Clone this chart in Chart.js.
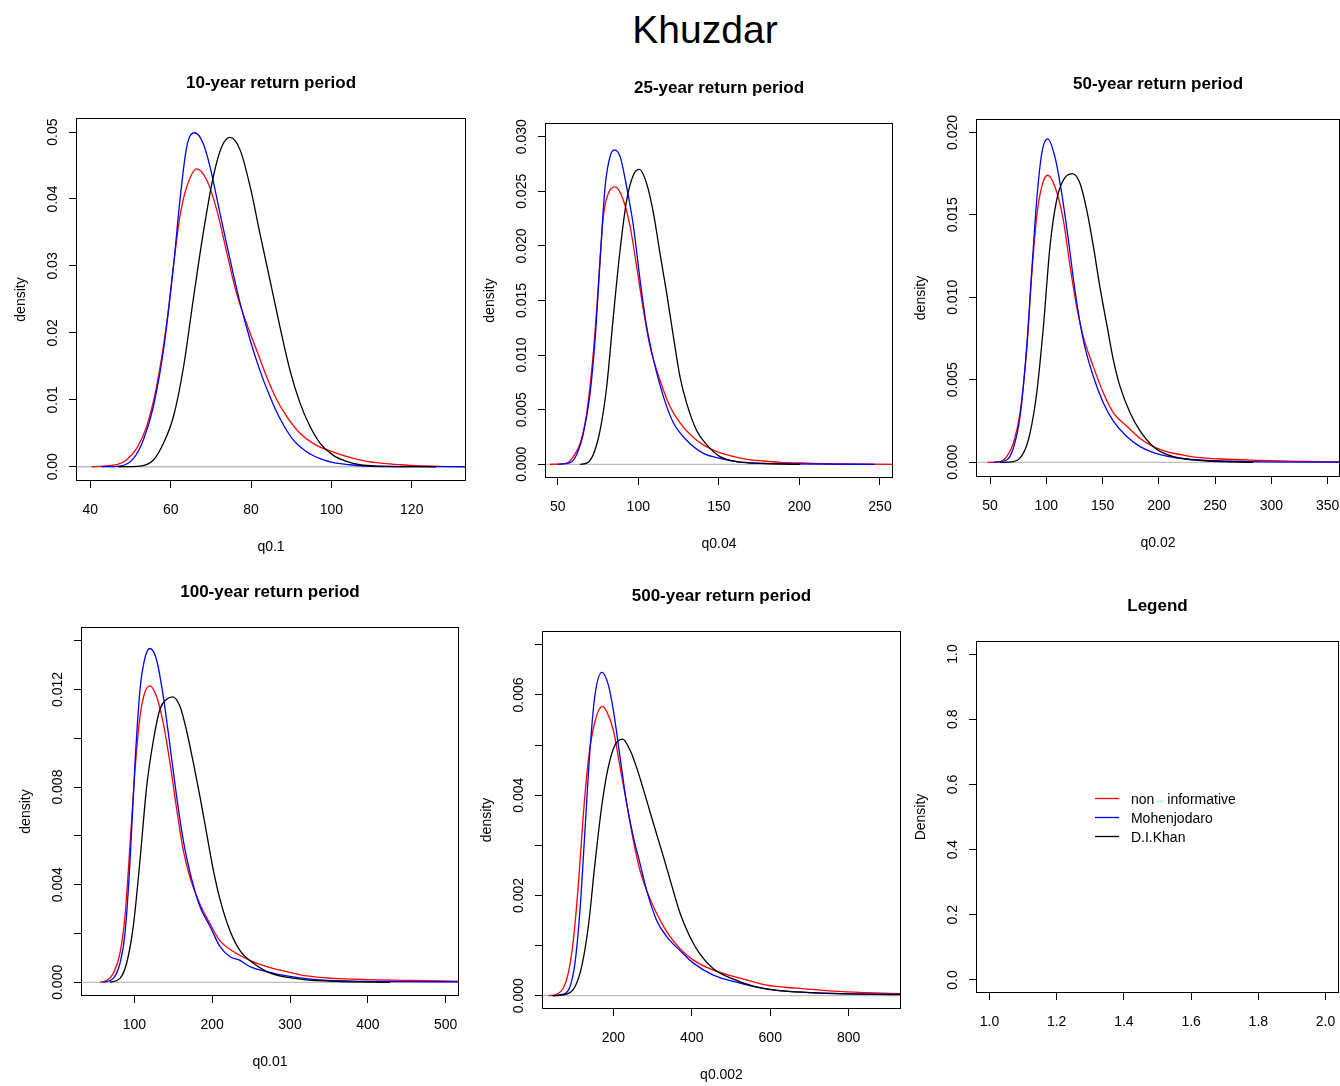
<!DOCTYPE html>
<html>
<head>
<meta charset="utf-8">
<title>Khuzdar</title>
<script src="https://cdn.jsdelivr.net/npm/chart.js@4.4.1/dist/chart.umd.min.js"></script>
<style>
  html, body { margin: 0; padding: 0; width: 1340px; height: 1086px; overflow: hidden; background: #fff; }
  #main { position: absolute; left: 405px; top: 10px; width: 600px; text-align: center;
          font: 39px/39px "Liberation Sans", Arial, sans-serif; color: #000; }
  canvas { position: absolute; }
</style>
</head>
<body>
<div id="main">Khuzdar</div>
<canvas id="p10"></canvas>
<canvas id="p25"></canvas>
<canvas id="p50"></canvas>
<canvas id="p100"></canvas>
<canvas id="p500"></canvas>
<canvas id="pleg"></canvas>
<script>
// densities, [quantile, density]
// 10-year
var rp10NonInf = [[40.3,0],[46.6,0.0003],[49,0.001],[51.5,0.0027],[54,0.006],[56.5,0.012],[59,0.0214],[60.7,0.030],[62.3,0.0374],[64,0.0418],[66.5,0.0445],[69,0.0428],[71.5,0.0383],[74,0.0319],[76.4,0.0259],[78.9,0.0214],[81.4,0.0174],[83.9,0.0134],[86.4,0.0100],[88.9,0.0075],[92.2,0.0050],[96.3,0.0032],[100.5,0.0022],[104.6,0.0014],[108.8,0.0008],[112.9,0.0005],[117.1,0.0003],[121.2,0.00015],[129.7,0.00003]];
var rp10Mohen = [[42.8,0],[47.4,0.0001],[50.7,0.0012],[53.2,0.004],[55.7,0.009],[58.2,0.0174],[60.7,0.030],[62.3,0.0398],[64,0.0478],[66,0.0499],[68.1,0.0483],[69.8,0.0448],[72.3,0.0378],[74.8,0.0309],[77.3,0.0244],[79.8,0.0189],[82.2,0.0144],[84.7,0.0105],[87.2,0.0072],[90.5,0.004],[93.9,0.0022],[97.2,0.0012],[100.5,0.0006],[104.6,0.0003],[108.8,0.0001],[117.1,0.00003],[133.5,0]];
var rp10DIKhan = [[47,0],[52.4,0.0001],[55.7,0.001],[58.2,0.0035],[60.7,0.0075],[63.2,0.0149],[65.6,0.0249],[68.1,0.0349],[70.6,0.0433],[72.7,0.0478],[74.8,0.0492],[77.3,0.0473],[79.8,0.0418],[82.2,0.0349],[84.7,0.0279],[87.2,0.0209],[89.7,0.0144],[92.2,0.0095],[94.7,0.006],[97.2,0.0035],[100.5,0.0017],[103.8,0.0008],[107.1,0.0003],[111.3,0.0001],[126,0]];
var rp10XTicks = [40, 60, 80, 100, 120];
var rp10XLabels = ['40', '60', '80', '100', '120'];
var rp10YTicks = [0, 0.01, 0.02, 0.03, 0.04, 0.05];
var rp10YLabels = ['0.00', '0.01', '0.02', '0.03', '0.04', '0.05'];

// 25-year
var rp25NonInf = [[45.2,0],[55.6,0.0001],[59.7,0.0007],[63.9,0.0019],[68,0.0047],[72.1,0.0102],[75.2,0.0163],[78.3,0.0227],[81.4,0.0248],[85.6,0.0254],[90.7,0.0242],[94.9,0.0218],[99,0.0181],[103.2,0.0141],[107.3,0.0108],[113.5,0.0077],[119.7,0.0053],[128,0.0034],[136.2,0.0022],[146.6,0.0013],[156.9,0.0008],[167.3,0.00046],[177.6,0.0003],[188,0.00018],[200.4,0.00012],[216.9,0.00005],[258,0]];
var rp25Mohen = [[50,0],[57.7,0.00015],[61.8,0.0009],[65.9,0.0028],[70.1,0.0065],[73.2,0.0114],[76.3,0.0187],[79.4,0.0254],[82.5,0.0282],[85.2,0.0288],[88.7,0.0282],[92.8,0.0254],[97,0.0218],[101.1,0.0169],[105.2,0.0126],[109.4,0.0096],[115.6,0.0062],[121.8,0.0038],[130,0.0022],[140.4,0.001],[150.7,0.00055],[161,0.00024],[173.5,0.0001],[198.3,0.00003],[246.9,0]];
var rp25DIKhan = [[63.9,0],[68,0.0001],[72.1,0.0009],[76.3,0.0031],[80.4,0.0071],[84.5,0.0135],[88.7,0.0196],[92.8,0.0242],[97,0.0265],[100.7,0.027],[105.2,0.0257],[109.4,0.023],[113.5,0.0193],[117.6,0.0157],[121.8,0.0117],[125.9,0.008],[130,0.0056],[136.2,0.0031],[142.4,0.0018],[150.7,0.0007],[161,0.00024],[171.4,0.0001],[200.4,0]];
var rp25XTicks = [50, 100, 150, 200, 250];
var rp25XLabels = ['50', '100', '150', '200', '250'];
var rp25YTicks = [0, 0.005, 0.010, 0.015, 0.020, 0.025, 0.030];
var rp25YLabels = ['0.000', '0.005', '0.010', '0.015', '0.020', '0.025', '0.030'];

// 50-year
var rp50NonInf = [[47.6,0],[58.9,0.00004],[64.8,0.00034],[70.7,0.00115],[76.7,0.003],[82.6,0.0068],[87,0.0113],[91.5,0.0149],[95.9,0.0167],[101.2,0.0174],[107.7,0.0167],[115.1,0.0147],[121.1,0.0119],[127,0.0094],[132.9,0.0076],[141.8,0.0058],[150.7,0.0042],[159.6,0.003],[171.4,0.0022],[183.3,0.00145],[195.1,0.00095],[206.9,0.00065],[221.7,0.00044],[236.6,0.00028],[254.3,0.0002],[289.9,0.00012],[325.4,0.00006],[360.9,0.00003]];
var rp50Mohen = [[53,0],[64.8,0.00014],[70.7,0.00085],[76.7,0.0028],[82.6,0.007],[87,0.0115],[91.5,0.0159],[95.9,0.0187],[101.2,0.0196],[107.7,0.0185],[113.7,0.0163],[119.6,0.0135],[125.5,0.0104],[132.9,0.0074],[141.8,0.0052],[150.7,0.0036],[159.6,0.0025],[171.4,0.00156],[183.3,0.00095],[195.1,0.00059],[206.9,0.00038],[224.7,0.0002],[248.4,0.0001],[283.9,0.00004],[360.9,0.00001]];
var rp50DIKhan = [[58.9,0],[70.7,0.00004],[79.6,0.00055],[85.5,0.00176],[91.5,0.0042],[97.4,0.0082],[103.3,0.0131],[109.2,0.0159],[115.1,0.0171],[123.1,0.0175],[130,0.0169],[135.9,0.0153],[141.8,0.0131],[147.7,0.0106],[153.6,0.0084],[159.6,0.0062],[165.5,0.0046],[174.4,0.003],[183.3,0.0019],[195.1,0.00095],[206.9,0.00048],[221.7,0.00022],[242.5,0.00008],[283.9,0]];
var rp50XTicks = [50, 100, 150, 200, 250, 300, 350];
var rp50XLabels = ['50', '100', '150', '200', '250', '300', '350'];
var rp50YTicks = [0, 0.005, 0.010, 0.015, 0.020];
var rp50YLabels = ['0.000', '0.005', '0.010', '0.015', '0.020'];

// 100-year
var rp100NonInf = [[55.9,0],[64.5,0.00007],[73,0.00037],[81.6,0.0012],[88,0.0027],[94.4,0.0056],[100.9,0.0087],[107.3,0.0109],[113.7,0.0119],[120.1,0.01215],[128.7,0.0117],[137.3,0.0106],[145.8,0.009],[154.4,0.0071],[163,0.0054],[171.5,0.0043],[184.4,0.0032],[197.2,0.0024],[210.1,0.0017],[227.2,0.00126],[248.6,0.0009],[270,0.00064],[295.7,0.00044],[321.4,0.00026],[355.7,0.00016],[398.5,0.00011],[454.2,0.00008],[517,0.00004]];
var rp100Mohen = [[60.2,0],[73,0.00016],[81.6,0.00078],[88,0.002],[94.4,0.0049],[100.9,0.009],[107.3,0.012],[113.7,0.0133],[120.1,0.01368],[128.7,0.0132],[137.3,0.0117],[145.8,0.0097],[154.4,0.0076],[163,0.0058],[171.5,0.0045],[184.4,0.0031],[197.2,0.0023],[210.1,0.00146],[223,0.00105],[235.8,0.0009],[248.6,0.00064],[270,0.00044],[295.7,0.00026],[330,0.00012],[381.4,0.00005],[441.3,0.00003],[517,0.00002]];
var rp100DIKhan = [[68.7,0],[81.6,0.00016],[90.1,0.00078],[98.7,0.0023],[107.3,0.005],[115.8,0.008],[124.4,0.0099],[133,0.0112],[141.5,0.0116],[149.3,0.0117],[158.7,0.0113],[167.2,0.0103],[175.8,0.009],[184.4,0.0076],[192.9,0.0061],[201.5,0.0046],[210.1,0.0034],[223,0.0021],[235.8,0.0013],[253,0.00078],[270,0.00044],[291.4,0.00023],[321.4,0.0001],[355.7,0.00004],[428.5,0]];
var rp100XTicks = [100, 200, 300, 400, 500];
var rp100XLabels = ['100', '200', '300', '400', '500'];
var rp100YTicks = [0, 0.002, 0.004, 0.006, 0.008, 0.010, 0.012, 0.014];
var rp100YLabels = ['0.000', '', '0.004', '', '0.008', '', '0.012', ''];

// 500-year
var rp500NonInf = [[34.3,0],[55.5,0.00003],[72.5,0.00015],[85.3,0.00045],[98,0.0011],[110.8,0.0022],[123.5,0.0036],[136.3,0.0047],[153.3,0.00547],[172,0.00577],[183,0.00567],[200,0.0053],[217,0.00457],[234,0.00384],[251,0.0031],[268,0.0025],[285,0.0021],[310.5,0.00164],[336,0.00128],[370,0.00094],[404,0.00071],[455,0.00051],[523,0.00035],[591,0.00021],[667.4,0.00015],[760.9,0.00009],[845.9,0.00006],[933,0.00004]];
var rp500Mohen = [[42.8,0],[72.5,0.00003],[89.5,0.00018],[102.3,0.00065],[115,0.0017],[127.8,0.0033],[140.5,0.0049],[153.3,0.006],[171.1,0.00645],[187.3,0.0062],[200,0.0057],[217,0.00477],[234,0.00384],[251,0.00317],[268,0.00264],[285,0.0021],[310.5,0.0015],[336,0.00118],[370,0.0009],[404,0.00065],[455,0.00041],[523,0.00025],[591,0.00013],[676,0.00007],[760.9,0.00004],[933,0.00003]];
var rp500DIKhan = [[47,0],[81,0.00003],[102.3,0.00018],[119.3,0.00058],[136.3,0.00138],[153.3,0.00264],[170.3,0.00377],[185.6,0.0045],[204.2,0.005],[223.8,0.00512],[242.5,0.0049],[259.5,0.00455],[276.5,0.00412],[293.5,0.00367],[310.5,0.00322],[327.5,0.00278],[344.5,0.00232],[370,0.00165],[395.5,0.00117],[421,0.00083],[455,0.00054],[506,0.00033],[557,0.00019],[625,0.0001],[710,0.00006],[837.4,0.00003],[933,0.00002]];
var rp500XTicks = [200, 400, 600, 800];
var rp500XLabels = ['200', '400', '600', '800'];
var rp500YTicks = [0, 0.001, 0.002, 0.003, 0.004, 0.005, 0.006, 0.007];
var rp500YLabels = ['0.000', '', '0.002', '', '0.004', '', '0.006', ''];

// legend panel
var legXTicks = [1.0, 1.2, 1.4, 1.6, 1.8, 2.0];
var legXLabels = ['1.0', '1.2', '1.4', '1.6', '1.8', '2.0'];
var legYTicks = [0, 0.2, 0.4, 0.6, 0.8, 1.0];
var legYLabels = ['0.0', '0.2', '0.4', '0.6', '0.8', '1.0'];
var legendLabels = ['non\u2212informative', 'Mohenjodaro', 'D.I.Khan'];
var legendColors = ['#ff0000', '#0000ff', '#000000'];

// margins round each plot box, in px
var ML = 80, MR = 80, MT = 50, MB = 80;
var FONT = '"Liberation Sans", Arial, sans-serif';

Chart.defaults.font.family = FONT;
Chart.defaults.color = '#000';
Chart.defaults.animation = false;

// R draws the y labels 23px left of the box, centred on the label
function yPad(labels) {
  var c = document.createElement('canvas').getContext('2d');
  c.font = '14px ' + FONT;
  var w = 0;
  labels.forEach(function(s) { w = Math.max(w, c.measureText(s).width); });
  return 23 - 7 - w / 2;
}

var boxPlugin = {
  id: 'box',
  afterDraw: function(chart) {
    var a = chart.chartArea, c = chart.ctx;
    c.save();
    c.strokeStyle = '#000';
    c.lineWidth = 1;
    c.strokeRect(a.left + 0.5, a.top + 0.5, a.right - a.left - 1, a.bottom - a.top - 1);
    c.restore();
  }
};

var legendPlugin = {
  id: 'rlegend',
  afterDraw: function(chart, args, o) {
    if (!o.rows) return;
    var c = chart.ctx, sx = chart.scales.x, sy = chart.scales.y;
    var x0 = sx.getPixelForValue(o.lineFrom), x1 = sx.getPixelForValue(o.lineTo);
    var xt = sx.getPixelForValue(o.textAt);
    c.save();
    c.font = '14px ' + FONT;
    c.textBaseline = 'middle';
    c.textAlign = 'left';
    legendLabels.forEach(function(lab, i) {
      var y = Math.round(sy.getPixelForValue(o.rows[i])) + 0.5;
      c.strokeStyle = legendColors[i];
      c.lineWidth = 1.3;
      c.beginPath(); c.moveTo(x0, y); c.lineTo(x1, y); c.stroke();
      c.fillStyle = '#000';
      var parts = lab.split('\u2212');
      if (parts.length === 2) {
        c.fillText(parts[0], xt, y + 2);
        var xa = xt + c.measureText(parts[0]).width + 3;
        c.strokeStyle = '#88ffff';
        c.lineWidth = 1.5;
        c.beginPath(); c.moveTo(xa, y + 3); c.lineTo(xa + 7, y + 3); c.stroke();
        c.fillText(parts[1], xa + 10, y + 2);
      } else {
        c.fillText(lab, xt, y + 2);
      }
    });
    c.restore();
  }
};

function curve(data, color) {
  return { data: data, borderColor: color, borderWidth: 1.3, pointRadius: 0,
           showLine: true, fill: false, cubicInterpolationMode: 'monotone' };
}

function axis(range, ticks, labels, title, isY) {
  var ax = {
    type: 'linear', min: range[0], max: range[1], bounds: 'data',
    afterBuildTicks: function(s) { s.ticks = ticks.map(function(v) { return { value: v }; }); },
    ticks: {
      callback: function(v, i) { return labels[i]; },
      font: { size: 14 }, color: '#000', autoSkip: false
    },
    grid: { drawOnChartArea: false, drawTicks: true, tickLength: 7, tickColor: '#000', color: '#000', lineWidth: 1 },
    border: { display: false },
    title: { display: !!title, text: title || '', font: { size: 14 }, color: '#000' }
  };
  if (isY) {
    ax.afterFit = function(s) { s.width = ML; };
    ax.ticks.padding = yPad(labels);
    ax.ticks.minRotation = 90;
    ax.ticks.maxRotation = 90;
    ax.ticks.crossAlign = 'center';
    ax.title.padding = { top: ML - 55 - 8.4, bottom: 0 };
  } else {
    ax.afterFit = function(s) { s.height = MB; };
    ax.ticks.padding = 13.6;
    ax.ticks.maxRotation = 0;
    ax.title.padding = { top: 0, bottom: 5.6 };
  }
  return ax;
}

function makePanel(id, p) {
  var cv = document.getElementById(id);
  var w = p.box[2] - p.box[0] + ML + MR;
  var h = p.box[3] - p.box[1] + MT + MB;
  cv.width = w; cv.height = h;
  cv.style.width = w + 'px'; cv.style.height = h + 'px';
  cv.style.left = (p.box[0] - ML) + 'px';
  cv.style.top = (p.box[1] - MT) + 'px';

  var sets = [];
  if (p.series) {
    sets = [curve(p.series[2], '#000000'), curve(p.series[1], '#0000ff'), curve(p.series[0], '#ff0000'),
            { data: [[p.xr[0], 0], [p.xr[1], 0]], borderColor: '#bebebe', borderWidth: 1.3,
              pointRadius: 0, showLine: true, fill: false }];
  }

  var tTop = MT - 35 - 10.2;
  new Chart(cv, {
    type: 'scatter',
    data: { datasets: sets },
    options: {
      responsive: false,
      animation: false,
      events: [],
      layout: { autoPadding: false, padding: { left: 0, right: MR, top: 0, bottom: 0 } },
      plugins: {
        legend: { display: false },
        tooltip: { enabled: false },
        title: { display: true, fullSize: false, text: p.title, color: '#000',
                 font: { size: 17, weight: 'bold' }, padding: { top: tTop, bottom: MT - 20.4 - tTop } },
        rlegend: p.legend || {}
      },
      scales: {
        x: axis(p.xr, p.xt[0], p.xt[1], p.xTitle, false),
        y: axis(p.yr, p.yt[0], p.yt[1], p.yTitle, true)
      }
    },
    plugins: [boxPlugin, legendPlugin]
  });
}

makePanel('p10', {
  title: '10-year return period', xTitle: 'q0.1', yTitle: 'density',
  box: [76, 118, 466, 481], xr: [36.44, 133.5], yr: [-0.00213, 0.0521],
  xt: [rp10XTicks, rp10XLabels], yt: [rp10YTicks, rp10YLabels],
  series: [rp10NonInf, rp10Mohen, rp10DIKhan]
});
makePanel('p25', {
  title: '25-year return period', xTitle: 'q0.04', yTitle: 'density',
  box: [545, 123, 893, 478], xr: [42.12, 258.07], yr: [-0.001255, 0.031255],
  xt: [rp25XTicks, rp25XLabels], yt: [rp25YTicks, rp25YLabels],
  series: [rp25NonInf, rp25Mohen, rp25DIKhan]
});
makePanel('p50', {
  title: '50-year return period', xTitle: 'q0.02', yTitle: 'density',
  box: [976, 119, 1340, 477], xr: [37.56, 360.9], yr: [-0.00089, 0.02081],
  xt: [rp50XTicks, rp50XLabels], yt: [rp50YTicks, rp50YLabels],
  series: [rp50NonInf, rp50Mohen, rp50DIKhan]
});
makePanel('p100', {
  title: '100-year return period', xTitle: 'q0.01', yTitle: 'density',
  box: [81, 627, 459, 996], xr: [31.5, 517.1], yr: [-0.000561, 0.014561],
  xt: [rp100XTicks, rp100XLabels], yt: [rp100YTicks, rp100YLabels],
  series: [rp100NonInf, rp100Mohen, rp100DIKhan]
});
makePanel('p500', {
  title: '500-year return period', xTitle: 'q0.002', yTitle: 'density',
  box: [542, 631, 901, 1009], xr: [18.25, 933.3], yr: [-0.000265, 0.007275],
  xt: [rp500XTicks, rp500XLabels], yt: [rp500YTicks, rp500YLabels],
  series: [rp500NonInf, rp500Mohen, rp500DIKhan]
});
makePanel('pleg', {
  title: 'Legend', xTitle: '', yTitle: 'Density',
  box: [976, 641, 1339, 993], xr: [0.96, 2.04], yr: [-0.04, 1.04],
  xt: [legXTicks, legXLabels], yt: [legYTicks, legYLabels],
  legend: { lineFrom: 1.314, lineTo: 1.386, textAt: 1.421, rows: [0.557, 0.501, 0.442] }
});
</script>
</body>
</html>
